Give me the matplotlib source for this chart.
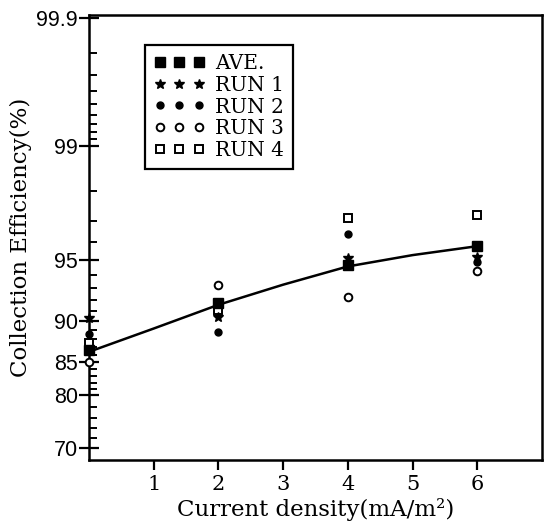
import math
import numpy as np
import matplotlib
matplotlib.use("Agg")
import matplotlib.pyplot as plt

px = 1. / 100

# current density (mA/m2)
density = [0, 2, 4, 6]
# collection efficiency (%)
ave = [86.6, 91.8, 94.7, 95.8]
run1 = [90.3, 90.4, 95.1, 95.2]
run2 = [88.6, 88.8, 96.4, 94.9]
run3 = [85.0, 93.3, 92.3, 94.3]
run4 = [87.5, 91.1, 97.1, 97.2]

# fitted curve through the averages
curve_x = [0, 1, 2, 3, 4, 5, 6]
curve_y = [86.4, 89.2, 91.6, 93.3, 94.6, 95.3, 95.8]

major_ticks = [70, 80, 85, 90, 95, 99, 99.9]
major_labels = ["70", "80", "85", "90", "95", "99", "99.9"]
minor_ticks = [72, 74, 76, 78, 81, 82, 83, 84, 86, 87, 88, 89, 91, 92, 93, 94,
               96, 97, 98, 99.1, 99.2, 99.3, 99.4, 99.5, 99.6, 99.7, 99.8]

_erf = np.vectorize(math.erf, otypes=[float])


def norm_cdf(z):
    return 0.5 * (1 + _erf(np.asarray(z, dtype=float) / math.sqrt(2)))


def probit(p):
    # inverse normal cdf of a percentage, by bisection
    p = np.clip(np.asarray(p, dtype=float) / 100., 1e-9, 1 - 1e-9)
    lo = np.full(p.shape, -8.0)
    hi = np.full(p.shape, 8.0)
    for _ in range(60):
        mid = 0.5 * (lo + hi)
        below = norm_cdf(mid) < p
        lo = np.where(below, mid, lo)
        hi = np.where(below, hi, mid)
    return 0.5 * (lo + hi)


def inv_probit(z):
    return 100. * norm_cdf(z)


serif = "DejaVu Serif"
sans = "Liberation Sans"

fig = plt.figure(figsize=(548 * px, 521 * px), dpi=100)
ax = fig.add_axes([89 / 548, 1 - 460 / 521, (542 - 89) / 548, (460 - 15) / 521])
ax.set_yscale("function", functions=(probit, inv_probit))

ax.plot(curve_x, curve_y, color="black", lw=1.8, zorder=2, clip_on=False)

ax.plot(density, run3, "o", ms=5.5, mfc="white", mec="black", mew=1.4,
        ls="none", label="RUN 3", clip_on=False, zorder=3)
ax.plot(density, run4, "s", ms=5.5, mfc="white", mec="black", mew=1.4,
        ls="none", label="RUN 4", clip_on=False, zorder=3)
ax.plot(density, run2, "o", ms=5, color="black", ls="none",
        label="RUN 2", clip_on=False, zorder=4)
ax.plot(density, run1, "*", ms=7, color="black", ls="none",
        label="RUN 1", clip_on=False, zorder=4)
ax.plot(density, ave, "s", ms=6.5, color="black", ls="none",
        label="AVE.", clip_on=False, zorder=5)

ax.set_xlim(0, 7)
ax.set_ylim(67.5, 99.905)

ax.set_xticks([1, 2, 3, 4, 5, 6])
ax.set_xticklabels(["1", "2", "3", "4", "5", "6"], family=serif, fontsize=15)
ax.set_yticks(major_ticks)
ax.set_yticklabels(major_labels, family=sans, fontsize=15.5)
ax.set_yticks(minor_ticks, minor=True)
ax.yaxis.set_minor_formatter(matplotlib.ticker.NullFormatter())

ax.tick_params(axis="y", which="major", direction="inout", length=14, width=1.6, pad=1)
ax.tick_params(axis="y", which="minor", direction="in", length=6, width=1.4)
ax.tick_params(axis="x", which="major", direction="out", length=7, width=1.6, pad=4)
for s in ax.spines.values():
    s.set_linewidth(1.8)

ax.set_xlabel("Current density(mA/m²)", family=serif, fontsize=16.5, labelpad=3)
ax.set_ylabel("Collection Efficiency(%)", family=serif, fontsize=16.5, labelpad=3)

handles, labels = ax.get_legend_handles_labels()
order = [4, 3, 2, 0, 1]
leg = ax.legend([handles[i] for i in order], [labels[i] for i in order],
                loc="upper left", bbox_to_anchor=(0.124, 0.933), borderaxespad=0,
                numpoints=3, handlelength=2.5, handletextpad=0.5,
                labelspacing=0.14, borderpad=0.45, fancybox=False, framealpha=1,
                prop={"family": serif, "size": 14.5})
leg.get_frame().set_edgecolor("black")
leg.get_frame().set_linewidth(1.6)

fig.savefig("out.png", dpi=100)
